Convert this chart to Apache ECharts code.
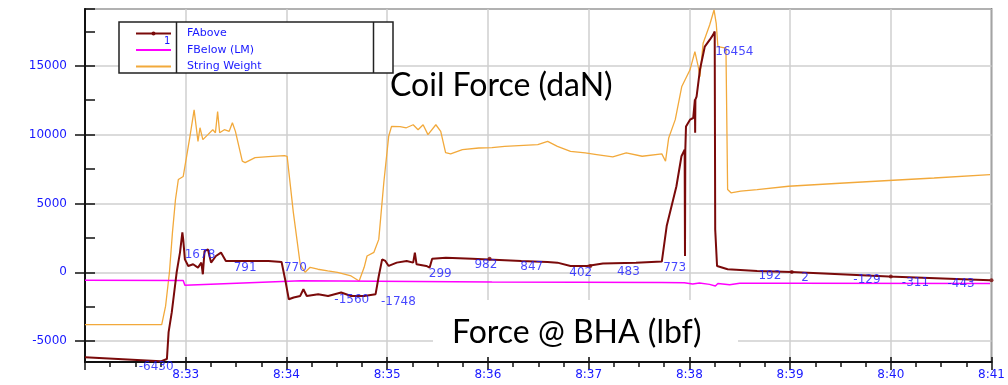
<!DOCTYPE html>
<html>
<head>
<meta charset="utf-8">
<script src="https://cdn.jsdelivr.net/npm/echarts@6/dist/echarts.min.js"></script>
<style>
html, body { margin: 0; padding: 0; background: #fff; }
#chart { width: 1008px; height: 385px; }
</style>
</head>
<body>
<div id="chart"></div>
<script>
// seconds after 8:32:00, value
var stringWeight = [
	[0, -3800], [45.7, -3800], [48, -2460], [50.3, 0], [52.1, 2900], [53.9, 5290], [55.6, 6740], [58.5, 6960],
	[60.5, 8400], [62.5, 9850], [65, 11800], [67.3, 9500], [68.5, 10500], [70.2, 9640], [73.2, 10000], [76.1, 10360],
	[77.7, 10140], [79, 11670], [80.2, 10140], [83, 10360], [85.9, 10240], [87.8, 10870], [89.6, 10240], [93.7, 8070],
	[95.4, 7970], [101.3, 8330], [109.3, 8400], [118.8, 8480], [120.4, 8430], [124.1, 4350], [128.2, 580], [131.1, 0],
	[134.1, 360], [138.7, 220], [144.6, 100], [150.4, 0], [158.5, -270], [163.3, -630], [166.3, 360], [168, 1180],
	[172.1, 1450], [175, 2390], [178, 6520], [180.9, 9880], [182.6, 10600], [187.7, 10580], [191.4, 10500], [195.5, 10720],
	[198.4, 10360], [201.4, 10720], [204.3, 10000], [209, 10720], [211.9, 10240], [214.8, 8700], [217.8, 8600], [224.8, 8910],
	[234.6, 9030], [242.4, 9060], [250, 9150], [269.7, 9270], [275.6, 9510], [281.4, 9150], [289.2, 8790], [298, 8670],
	[304.8, 8550], [314.4, 8380], [322.4, 8670], [331.9, 8430], [343.6, 8600], [345.8, 8070], [347.7, 9760], [351.6, 11090],
	[355.5, 13500], [360.4, 14710], [363.3, 16030], [365.3, 14950], [366.3, 14220], [368.2, 16640], [372.1, 17970], [374.7, 19060],
	[376, 18090], [377, 16400], [381.8, 16280], [382.8, 6010], [384.8, 5775], [390.6, 5890], [400.4, 6010], [419.1, 6250],
	[447, 6450], [478.8, 6670], [505.8, 6850], [539.1, 7100]
];

var fAbove = [
	[0, -6180], [45.1, -6470], [48.8, -6300], [49.8, -4350], [51.7, -2900], [54.6, 0], [56.6, 1450], [58, 2900],
	[58.5, 2390], [59.5, 940], [61.5, 460], [64.4, 580], [67.3, 340], [69.3, 700], [70.2, -145], [71.2, 1540],
	[73.2, 1670], [75.1, 700], [78, 1180], [81, 1430], [83.9, 820], [89.7, 820], [109.3, 820], [117.1, 750],
	[117.5, 700], [119.4, -630], [121.4, -1960], [124.3, -1830], [128.2, -1720], [130.1, -1230], [132.1, -1720], [138.9, -1590],
	[144.8, -1720], [152.6, -1470], [158.5, -1720], [166.3, -1720], [173.1, -1590], [175, -270], [177, 940], [178.9, 820],
	[180.9, 460], [185.7, 700], [191.6, 820], [195.5, 700], [196.5, 1430], [197.5, 580], [203.3, 460], [205.3, 340],
	[206.8, 990], [215, 1060], [230.6, 990], [259.9, 820], [275.5, 750], [281.4, 700], [289.2, 460], [299, 460],
	[308.5, 630], [328.2, 700], [343.6, 775], [346.5, 3360], [352.3, 6250], [355.3, 8430], [357.2, 8910], [357.4, 1180],
	[357.6, 8910], [358, 10600], [360.4, 11090], [362.3, 11210], [363.3, 12540], [363.45, 10140], [363.6, 12540], [364.3, 12770],
	[366.3, 14710], [369.2, 16400], [372.1, 16880], [374.1, 17250], [375.1, 17490], [375.4, 3120], [376.5, 460], [382.8, 220],
	[400.4, 100], [420.9, 20], [478.8, -300], [539.1, -580]
];

var fBelow = [
	[0, -580], [58.5, -600], [59.5, -950], [128.8, -620], [242.4, -700], [343.6, -740], [357, -760], [362, -850],
	[366, -780], [372, -880], [375.5, -1000], [377, -820], [384, -900], [390, -800], [420.9, -800], [539.1, -820]
];

// value tags along FAbove
var fAboveTags = [
	[42.4, -6430], [68.5, 1678], [95.4, 791], [125.3, 770], [158.9, -1560], [186.7, -1748], [211.6, 299], [238.8, 982],
	[266.1, 847], [295.3, 402], [323.7, 483], [351.2, 773], [386.8, 16454], [408, 192], [429, 2], [465.8, -129],
	[494.7, -311], [521.9, -443]
];
var fAboveDots = [[241, 990], [301, 460], [421, 20], [480, -300], [540, -580]];

var seriesNames = ['FAbove', 'FBelow (LM)', 'String Weight'];
var startHour = 8, startMinute = 32;

var blue = '#1818ff';
var axisColor = '#111';
var gridColor = '#cfcfcf';

function timeLabel(v) {
	var m = startMinute + Math.round(v / 60);
	return startHour + ':' + (m < 10 ? '0' + m : m);
}

var myChart = echarts.init(document.getElementById('chart'));

option = {
	animation: false,
	textStyle: { fontFamily: 'DejaVu Sans' },
	grid: {
		left: 85, right: 1, top: 9, bottom: 23,
		show: true, borderColor: '#222', borderWidth: 1.5
	},
	legend: {
		data: [
			{ name: seriesNames[0] },
			{ name: seriesNames[1], itemStyle: { opacity: 0 } },
			{ name: seriesNames[2], itemStyle: { opacity: 0 } }
		],
		orient: 'vertical',
		left: 135, top: 28,
		padding: 0,
		itemWidth: 35, itemHeight: 5, itemGap: 5.5,
		textStyle: { color: blue, fontSize: 11, fontFamily: 'DejaVu Sans', padding: [0, 0, 0, 11] }
	},
	xAxis: [
		{
			type: 'value', min: 0, max: 540, minInterval: 60, maxInterval: 60, position: 'bottom',
			axisLine: { onZero: false, lineStyle: { color: axisColor, width: 2 } },
			axisTick: { length: 8, lineStyle: { color: axisColor, width: 1.5 } },
			minorTick: { show: true, splitNumber: 4, length: 5, lineStyle: { color: axisColor, width: 1.5 } },
			axisLabel: { color: blue, fontSize: 12, margin: 7, showMinLabel: false, formatter: timeLabel },
			splitLine: { show: true, lineStyle: { color: gridColor, width: 1.5 } }
		},
		{
			// upper half of the crossing ticks
			type: 'value', min: 0, max: 540, minInterval: 60, maxInterval: 60, position: 'bottom',
			axisLine: { show: false, onZero: false },
			axisTick: { inside: true, length: 5, lineStyle: { color: axisColor, width: 1.5 } },
			axisLabel: { show: false },
			splitLine: { show: false }
		}
	],
	yAxis: [
		{
			type: 'value', min: -6520, max: 19130, minInterval: 5000, maxInterval: 5000, position: 'left',
			axisLine: { show: true, onZero: false, lineStyle: { color: axisColor, width: 2 } },
			axisTick: { show: true, length: 10, lineStyle: { color: axisColor, width: 1.5 } },
			axisLabel: {
				color: blue, fontSize: 12, margin: 18, showMinLabel: false, showMaxLabel: false,
				formatter: function (v) { return String(v); }
			},
			splitLine: { show: true, lineStyle: { color: gridColor, width: 1.5 } }
		},
		{
			type: 'value', min: -6520, max: 19130, minInterval: 2500, maxInterval: 2500, position: 'left',
			axisLine: { show: false, onZero: false },
			axisTick: { show: true, inside: true, length: 10, lineStyle: { color: axisColor, width: 1.5 } },
			axisLabel: { show: false },
			splitLine: { show: false }
		}
	],
	series: [
		{
			name: 'String Weight', type: 'line', data: stringWeight,
			symbol: 'none', lineStyle: { color: '#f2a93b', width: 1.3 }, itemStyle: { color: '#f2a93b' }, z: 2
		},
		{
			name: 'FBelow (LM)', type: 'line', data: fBelow,
			symbol: 'none', lineStyle: { color: '#ff00ff', width: 1.5 }, itemStyle: { color: '#ff00ff' }, z: 2
		},
		{
			name: 'FAbove', type: 'line', data: fAbove,
			symbol: 'circle', symbolSize: 4, showSymbol: false,
			lineStyle: { color: '#7a0a0a', width: 2 }, itemStyle: { color: '#7a0a0a' }, z: 3
		},
		{
			type: 'scatter', data: fAboveDots, symbolSize: 4,
			itemStyle: { color: '#7a0a0a' }, z: 4
		},
		{
			type: 'scatter', data: fAboveTags, symbolSize: 0, z: 5,
			label: {
				show: true, position: 'inside', offset: [0, 6],
				color: blue, fontSize: 12, fontFamily: 'DejaVu Sans',
				formatter: function (p) { return String(p.value[1]); }
			}
		}
	],
	graphic: [
		{ type: 'rect', z: 3, shape: { x: 119, y: 22, width: 274, height: 51 }, style: { fill: '#fff', stroke: '#222', lineWidth: 1.5 } },
		{ type: 'line', z: 3, shape: { x1: 176.5, y1: 22, x2: 176.5, y2: 73 }, style: { stroke: '#222', lineWidth: 1.5 } },
		{ type: 'line', z: 3, shape: { x1: 373.5, y1: 22, x2: 373.5, y2: 73 }, style: { stroke: '#222', lineWidth: 1.5 } },
		{ type: 'text', z: 5, x: 164, y: 36, style: { text: '1', fill: blue, font: '10px DejaVu Sans' } },
		{ type: 'text', z: 5, x: 390, y: 86, style: { text: 'Coil Force (daN)', fill: '#000', font: '32px Lato', verticalAlign: 'middle' } },
		{ type: 'rect', z: 3, shape: { x: 433, y: 300, width: 305, height: 57 }, style: { fill: '#fff' } },
		{ type: 'text', z: 5, x: 452, y: 333, style: { text: 'Force @ BHA (lbf)', fill: '#000', font: '32px Lato', verticalAlign: 'middle' } }
	]
};

myChart.setOption(option);
</script>
</body>
</html>
